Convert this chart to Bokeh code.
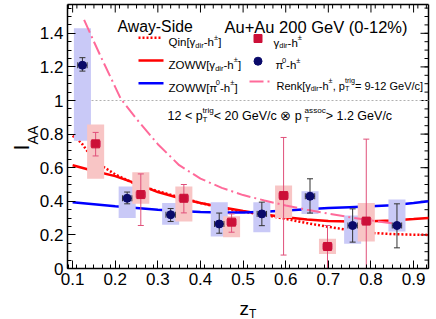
from bokeh.plotting import figure
from bokeh.models import Label, FixedTicker, Range1d, ColumnDataSource, Span
from bokeh.embed import file_html
from bokeh.resources import INLINE

# ---------------- data ----------------
pi0_x = [0.123, 0.228, 0.330, 0.444, 0.544, 0.657, 0.757, 0.861]
pi0_y = [1.21, 0.418, 0.32, 0.265, 0.325, 0.43, 0.256, 0.256]
pi0_stat_lo = [1.175, 0.385, 0.28, 0.21, 0.255, 0.33, 0.157, 0.123]
pi0_stat_hi = [1.255, 0.455, 0.357, 0.33, 0.395, 0.534, 0.355, 0.385]
pi0_sys_lo = [0.76, 0.30, 0.26, 0.19, 0.216, 0.325, 0.147, 0.22]
pi0_sys_hi = [1.43, 0.488, 0.39, 0.395, 0.395, 0.46, 0.315, 0.41]
pi0_xerr = [0.011, 0.011, 0.011, 0.011, 0.011, 0.011, 0.011, 0.011]

gam_x = [0.154, 0.260, 0.361, 0.473, 0.595, 0.698, 0.789]
gam_y = [0.742, 0.44, 0.418, 0.276, 0.434, 0.131, 0.282]
gam_stat_lo = [0.67, 0.256, 0.331, 0.216, 0.08, -0.2, -0.2]
gam_stat_hi = [0.81, 0.563, 0.50, 0.325, 0.78, 0.256, 0.77]
gam_sys_lo = [0.534, 0.385, 0.28, 0.186, 0.30, 0.087, 0.16]
gam_sys_hi = [0.857, 0.573, 0.488, 0.311, 0.494, 0.177, 0.39]
gam_xerr = [0.011, 0.011, 0.011, 0.011, 0.011, 0.011, 0.011]

qin_x = [0.10, 0.12, 0.14, 0.16, 0.20, 0.25, 0.30, 0.35, 0.40, 0.45, 0.50, 0.55,
         0.60, 0.65, 0.70, 0.75, 0.80, 0.85, 0.90, 0.935]
qin_y = [0.79, 0.75, 0.68, 0.625, 0.56, 0.50, 0.46, 0.425, 0.39, 0.36, 0.338, 0.32,
         0.295, 0.27, 0.248, 0.228, 0.212, 0.205, 0.201, 0.20]

zoww_x = [0.10, 0.15, 0.20, 0.25, 0.30, 0.35, 0.40, 0.45, 0.50, 0.55, 0.60, 0.65,
          0.70, 0.75, 0.80, 0.85, 0.90, 0.935]
zoww_gam_y = [0.615, 0.58, 0.55, 0.505, 0.455, 0.42, 0.39, 0.365, 0.342, 0.322, 0.305,
              0.292, 0.283, 0.28, 0.281, 0.286, 0.294, 0.30]
zoww_pi0_y = [0.395, 0.383, 0.37, 0.36, 0.35, 0.342, 0.336, 0.333, 0.334, 0.338, 0.345,
              0.353, 0.36, 0.365, 0.37, 0.377, 0.39, 0.40]

renk_x = [0.127, 0.15, 0.17, 0.20, 0.213, 0.25, 0.30, 0.35, 0.40, 0.45, 0.50, 0.55,
          0.60, 0.65, 0.70, 0.75, 0.80, 0.86]
renk_y = [1.48, 1.35, 1.24, 1.08, 1.01, 0.89, 0.74, 0.615, 0.535, 0.48, 0.437, 0.405,
          0.375, 0.35, 0.327, 0.305, 0.286, 0.265]

x_ticks = [0.1, 0.2, 0.3, 0.4, 0.5, 0.6, 0.7, 0.8, 0.9]
x_tick_labels = ["0.1", "0.2", "0.3", "0.4", "0.5", "0.6", "0.7", "0.8", "0.9"]
y_ticks = [0, 0.2, 0.4, 0.6, 0.8, 1, 1.2, 1.4]
y_tick_labels = ["0", "0.2", "0.4", "0.6", "0.8", "1", "1.2", "1.4"]
x_minor = [0.09 + 0.02 * i for i in range(43)]
y_minor = [0.05 * i for i in range(32)]

# ---------------- layout (canvas px) ----------------
W_PX, H_PX = 436, 319
X0, X1 = 0.088, 0.935                    # visible z_T extent of the plot box
FL, FR, FT, FB = 67, 428, 4, 268         # plot box edges on the canvas
PXU = 168.0                              # px per unit of I_AA
XPU = (FR - FL) / (X1 - X0)              # px per unit of z_T
Y1 = (FB - FT) / PXU
FONT = "Liberation Sans"
TICK_MAJ, TICK_MIN = 8, 4

def dx(px):
    return X0 + (px - FL) / XPU

def dy(py):
    return (FB - py) / PXU

# the frame fills the canvas; the axes sit at fixed positions inside it
p = figure(width=W_PX, height=H_PX, output_backend="svg", toolbar_location=None,
           x_range=Range1d(dx(0), dx(W_PX)), y_range=Range1d(dy(H_PX), dy(0)),
           min_border=0)
p.xgrid.visible = False
p.ygrid.visible = False
p.outline_line_color = None
p.background_fill_color = "white"
p.border_fill_color = "white"

def style_axis(ax, ticks, minor, labels, loc, bounds):
    ax.fixed_location = loc
    ax.bounds = bounds
    ax.ticker = FixedTicker(ticks=ticks, minor_ticks=minor)
    ax.major_tick_in = TICK_MAJ
    ax.major_tick_out = 0
    ax.minor_tick_in = TICK_MIN
    ax.minor_tick_out = 0
    ax.axis_line_width = 1.5
    ax.axis_line_color = "black"
    ax.major_tick_line_color = "black"
    ax.minor_tick_line_color = "black"
    ax.major_label_overrides = {t: l for t, l in zip(ticks, labels)}
    ax.major_label_text_font = FONT
    ax.major_label_text_font_size = "17px"
    ax.major_label_text_color = "black"
    ax.major_label_standoff = 4

style_axis(p.xaxis[0], x_ticks, x_minor, x_tick_labels, 0, (X0, X1))
style_axis(p.yaxis[0], y_ticks, y_minor, y_tick_labels, X0, (0, Y1))

# top and right edges of the box with mirrored tick marks
p.segment(x0=[X0], y0=[Y1], x1=[X1], y1=[Y1], line_color="black", line_width=1.5)
p.segment(x0=[X1], y0=[0], x1=[X1], y1=[Y1], line_color="black", line_width=1.5)
xt_in = [t for t in x_minor if X0 <= t <= X1]
p.segment(x0=x_ticks, y0=[Y1] * len(x_ticks), x1=x_ticks,
          y1=[Y1 - TICK_MAJ / PXU] * len(x_ticks), line_color="black", line_width=1)
p.segment(x0=xt_in, y0=[Y1] * len(xt_in), x1=xt_in,
          y1=[Y1 - TICK_MIN / PXU] * len(xt_in), line_color="black", line_width=1)
yt_in = [t for t in y_minor if t <= Y1]
p.segment(x0=[X1] * len(y_ticks), y0=y_ticks, x1=[X1 - TICK_MAJ / XPU] * len(y_ticks),
          y1=y_ticks, line_color="black", line_width=1)
p.segment(x0=[X1] * len(yt_in), y0=yt_in, x1=[X1 - TICK_MIN / XPU] * len(yt_in),
          y1=yt_in, line_color="black", line_width=1)

# reference line at I_AA = 1
p.line([X0, X1], [1, 1], line_color="#b0b0b0", line_dash="2 2", line_width=1)

# theory curves
p.line(qin_x, qin_y, line_color="#ff0000", line_width=2.5, line_dash="2 2")
p.line(zoww_x, zoww_gam_y, line_color="#ff0000", line_width=2.5)
p.line(zoww_x, zoww_pi0_y, line_color="#0000ff", line_width=2.5)

# systematic boxes
BOXW = 0.02
def make_src(x, y, lo, hi, slo, shi, xe):
    return ColumnDataSource(dict(x=x, y=y, lo=[max(v, 0) for v in lo], hi=hi,
                                 slo=slo, shi=shi,
                                 xl=[a - e for a, e in zip(x, xe)],
                                 xr=[a + e for a, e in zip(x, xe)],
                                 bl=[a - BOXW for a in x], br=[a + BOXW for a in x]))

pi0_src = make_src(pi0_x, pi0_y, pi0_stat_lo, pi0_stat_hi, pi0_sys_lo, pi0_sys_hi, pi0_xerr)
gam_src = make_src(gam_x, gam_y, gam_stat_lo, gam_stat_hi, gam_sys_lo, gam_sys_hi, gam_xerr)

p.quad(left="bl", right="br", bottom="slo", top="shi", source=pi0_src,
       fill_color="#c9c9f7", line_color=None)
p.quad(left="bl", right="br", bottom="slo", top="shi", source=gam_src,
       fill_color="#f8c5c5", line_color=None)

p.line(renk_x, renk_y, line_color="#ff6a9a", line_width=2, line_dash="14 4 2 4")

# statistical error bars and points
for src, lo_raw, col, marker, mcol in [(pi0_src, pi0_stat_lo, "#333333", "circle", "#0a0a6a"),
                                       (gam_src, gam_stat_lo, "#e0507a", "square", "#cc1038")]:
    p.segment(x0="x", y0="lo", x1="x", y1="hi", source=src, line_color=col, line_width=1)
    p.segment(x0="xl", y0="y", x1="xr", y1="y", source=src, line_color=col, line_width=1)
    capped = [i for i, v in enumerate(lo_raw) if v > 0]
    d = src.data
    p.scatter(x=[d["x"][i] for i in capped], y=[d["lo"][i] for i in capped],
              marker="dash", size=6, line_color=col, line_width=1)
    p.scatter(x="x", y="hi", source=src, marker="dash", size=6, line_color=col, line_width=1)
    p.scatter(x="xl", y="y", source=src, marker="dash", size=6, angle=1.5708,
              line_color=col, line_width=1)
    p.scatter(x="xr", y="y", source=src, marker="dash", size=6, angle=1.5708,
              line_color=col, line_width=1)
    p.scatter(x="x", y="y", source=src, marker=marker, size=8, fill_color=mcol,
              line_color=mcol)

# ---------------- texts ----------------
W = {' ': 278, '!': 278, '%': 889, '(': 333, ')': 333, '+': 584, ',': 278, '-': 333,
     '.': 278, '/': 278, '<': 584, '=': 584, '>': 584, '[': 278, ']': 278,
     'A': 667, 'G': 778, 'O': 778, 'Q': 778, 'R': 722, 'S': 667, 'T': 611, 'V': 667,
     'W': 944, 'Z': 611, 'I': 278, 'a': 556, 'c': 500, 'd': 556, 'e': 556, 'g': 556,
     'h': 556, 'i': 222, 'k': 500, 'n': 556, 'o': 556, 'p': 556, 'r': 333, 's': 500,
     't': 278, 'u': 556, 'w': 722, 'y': 500, 'z': 500, '±': 584, 'γ': 500, 'π': 556,
     '⊗': 838}

def tw(s, size):
    return sum(W.get(c, 556) for c in s) / 1000.0 * size

def lab(px, py, text, size, color="black", angle=0):
    p.add_layout(Label(x=dx(px), y=dy(py), text=text, text_font=FONT,
                       text_font_size=f"{size}px", text_color=color,
                       text_align="left", text_baseline="alphabetic",
                       angle=angle, angle_units="deg"))

def rich(pieces, x0, yb, size):
    x = x0
    s2 = round(size * 0.65, 1)
    for pc in pieces:
        kind = pc[0]
        if kind == "n":
            lab(x, yb, pc[1], size)
            x += tw(pc[1], size)
        elif kind == "sub":
            lab(x, yb + 0.3 * size, pc[1], s2)
            x += tw(pc[1], s2)
        elif kind == "sup":
            lab(x, yb - 0.42 * size, pc[1], s2)
            x += tw(pc[1], s2)
        elif kind == "ss":
            lab(x, yb + 0.3 * size, pc[1], s2)
            lab(x, yb - 0.45 * size, pc[2], s2)
            x += max(tw(pc[1], s2), tw(pc[2], s2))

lab(117, 26, "Away-Side", 15.8)
lab(224, 26, "Au+Au 200 GeV (0-12%)", 16.5)

LS = 11.5
rich([("n", "Qin[γ"), ("sub", "dir"), ("n", "-h"), ("sup", "±"), ("n", "]")], 168, 41.5, LS)
rich([("n", "ZOWW[γ"), ("sub", "dir"), ("n", "-h"), ("sup", "±"), ("n", "]")], 168, 64.2, LS)
rich([("n", "ZOWW[π"), ("sup", "0"), ("n", "-h"), ("sup", "±"), ("n", "]")], 168, 87, LS)
rich([("n", "γ"), ("sub", "dir"), ("n", "-h"), ("sup", "±")], 273, 42, LS)
rich([("n", "π"), ("sup", "0"), ("n", "-h"), ("sup", "±")], 275, 64.7, LS)
rich([("n", "Renk[γ"), ("sub", "dir"), ("n", "-h"), ("sup", "±"), ("n", ", p"),
      ("ss", "T", "trig"), ("n", "= 9-12 GeV/c]")], 276, 85, 11)
rich([("n", "12 < p"), ("ss", "T", "trig"), ("n", " < 20 GeV/c ⊗ p"),
      ("ss", "T", "assoc"), ("n", " > 1.2 GeV/c")], 167, 115.7, 12.5)

# legend samples
p.line([dx(138), dx(162)], [dy(37.3), dy(37.3)], line_color="#ff0000", line_width=2.5,
       line_dash="2 2")
p.line([dx(138), dx(163)], [dy(60), dy(60)], line_color="#ff0000", line_width=2.5)
p.line([dx(138), dx(163)], [dy(82.7), dy(82.7)], line_color="#0000ff", line_width=2.5)
p.line([dx(249), dx(269)], [dy(81), dy(81)], line_color="#ff6a9a", line_width=2,
       line_dash="14 4 2 4")
p.scatter([dx(257.5)], [dy(38)], marker="square", size=8, fill_color="#cc1038",
          line_color="#cc1038")
p.scatter([dx(257.5)], [dy(60.7)], marker="circle", size=8, fill_color="#0a0a6a",
          line_color="#0a0a6a")

# axis titles
lab(21, 150, "I", 22, angle=90)
lab(32, 150 - tw("I", 22), "AA", 14, angle=90)
lab(239, 308, "z", 19)
lab(239 + tw("z", 19), 313, "T", 12)

open("out.html", "w").write(file_html(p, INLINE))
